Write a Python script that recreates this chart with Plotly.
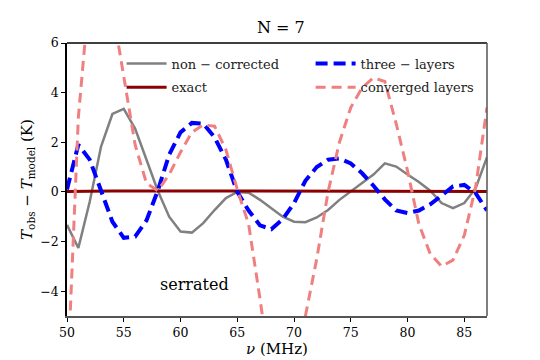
import plotly.graph_objects as go

# frequency grid (MHz)
nu = list(range(50, 88))

# residuals T_obs - T_model (K)
non_corrected = [-1.33, -2.26, -0.4, 1.83, 3.14, 3.35, 2.55, 1.3, 0.05, -1.0,
                 -1.6, -1.64, -1.26, -0.73, -0.25, 0.0, -0.03, -0.32, -0.65, -1.0,
                 -1.2, -1.22, -1.03, -0.73, -0.32, 0.01, 0.36, 0.7, 1.15, 1.02,
                 0.7, 0.4, 0.05, -0.45, -0.65, -0.45, 0.15, 1.4]
exact = [0.02, 0.03, 0.03, 0.03, 0.04, 0.04, 0.04, 0.03, 0.03, 0.03,
         0.03, 0.03, 0.03, 0.03, 0.02, 0.02, 0.02, 0.02, 0.02, 0.02,
         0.02, 0.02, 0.02, 0.02, 0.02, 0.02, 0.02, 0.02, 0.02, 0.02,
         0.02, 0.02, 0.02, 0.02, 0.02, 0.02, 0.02, 0.02]
three_layers = [0.1, 1.9, 1.3, 0.0, -1.2, -1.85, -1.8, -1.15, 0.05, 1.5,
                2.4, 2.78, 2.75, 2.2, 1.3, 0.0, -0.75, -1.35, -1.5, -1.1,
                -0.45, 0.45, 1.0, 1.3, 1.35, 1.15, 0.75, 0.25, -0.3, -0.75,
                -0.85, -0.75, -0.5, -0.15, 0.22, 0.28, -0.05, -0.75]
converged = [-8.0, 3.0, 8.2, 9.5, 7.4, 4.6, 1.9, 0.35, 0.05, 0.7,
             1.6, 2.4, 2.7, 2.65, 1.7, 0.1, -1.3, -4.3, -7.5, -8.5,
             -7.5, -5.0, -2.7, 0.0, 2.0, 3.4, 4.2, 4.6, 4.45, 2.75,
             0.85, -1.3, -2.5, -3.0, -2.75, -1.75, 0.2, 3.4]

x_ticks = [50, 55, 60, 65, 70, 75, 80, 85]
y_ticks = [-4, -2, 0, 2, 4, 6]

SERIF = "DejaVu Serif"

fig = go.Figure()
fig.add_trace(go.Scatter(x=nu, y=non_corrected, mode="lines", name="non − corrected",
                         line=dict(color="#808080", width=2.5), legend="legend", showlegend=True))
fig.add_trace(go.Scatter(x=nu, y=exact, mode="lines", name="exact",
                         line=dict(color="#8B0000", width=3), legend="legend2"))
fig.add_trace(go.Scatter(x=nu, y=three_layers, mode="lines", name="three − layers",
                         line=dict(color="#0000FF", width=4, dash="12px,6px"), legend="legend3"))
fig.add_trace(go.Scatter(x=nu, y=converged, mode="lines", name="converged layers",
                         line=dict(color="#F08080", width=3, dash="10px,6px"), legend="legend4"))

fig.add_annotation(x=61.2, y=-3.75, text="serrated", showarrow=False,
                   font=dict(family=SERIF, size=16, color="black"))

# top (black) and right (grey) spines
fig.add_shape(type="line", xref="x domain", yref="y domain", x0=0, x1=1, y0=1, y1=1,
              line=dict(color="black", width=1.5))
fig.add_shape(type="line", xref="x domain", yref="y domain", x0=1, x1=1, y0=0, y1=1,
              line=dict(color="#555555", width=1.5))

leg_common = dict(bgcolor="rgba(0,0,0,0)", font=dict(family=SERIF, size=13, color="#222"),
                  xanchor="left", yanchor="middle", itemwidth=40)
row1, row2 = 0.925, 0.838
col1, col2 = 0.13, 0.58
# page has an 8px body margin, so the figure is 8px smaller than the window
fig.update_layout(
    width=532, height=352,
    showlegend=True,
    paper_bgcolor="white", plot_bgcolor="white",
    margin=dict(l=59, r=53, t=35, b=44, autoexpand=False),
    title=dict(text="N = 7", x=0.513, xanchor="center", y=0.945, yanchor="middle",
               font=dict(family=SERIF, size=16, color="black")),
    font=dict(family=SERIF, color="black"),
    legend=dict(x=col1, y=row1, **leg_common),
    legend2=dict(x=col1, y=row2, **leg_common),
    legend3=dict(x=col2, y=row1, **leg_common),
    legend4=dict(x=col2, y=row2, **leg_common),
)
fig.update_xaxes(range=[50, 87], tickvals=x_ticks, ticks="outside", ticklen=4, tickcolor="black",
                 showline=True, linecolor="#555555", linewidth=1.5, showgrid=False, zeroline=False,
                 automargin=False, tickfont=dict(family=SERIF, size=12.5),
                 title=dict(text="<i>ν</i> (MHz)", font=dict(family=SERIF, size=15), standoff=2))
fig.update_yaxes(range=[-5, 6], tickvals=y_ticks, ticktext=["−4", "−2", "0", "2", "4", "6"],
                 ticks="outside", ticklen=4, tickcolor="black",
                 showline=True, linecolor="black", linewidth=1.5, showgrid=False, zeroline=False,
                 automargin=False, tickfont=dict(family=SERIF, size=12.5),
                 title=dict(text="<i>T</i><sub>obs</sub> − <i>T</i><sub>model</sub> (K)",
                            font=dict(family=SERIF, size=15), standoff=4))

fig.write_html("out.html")
